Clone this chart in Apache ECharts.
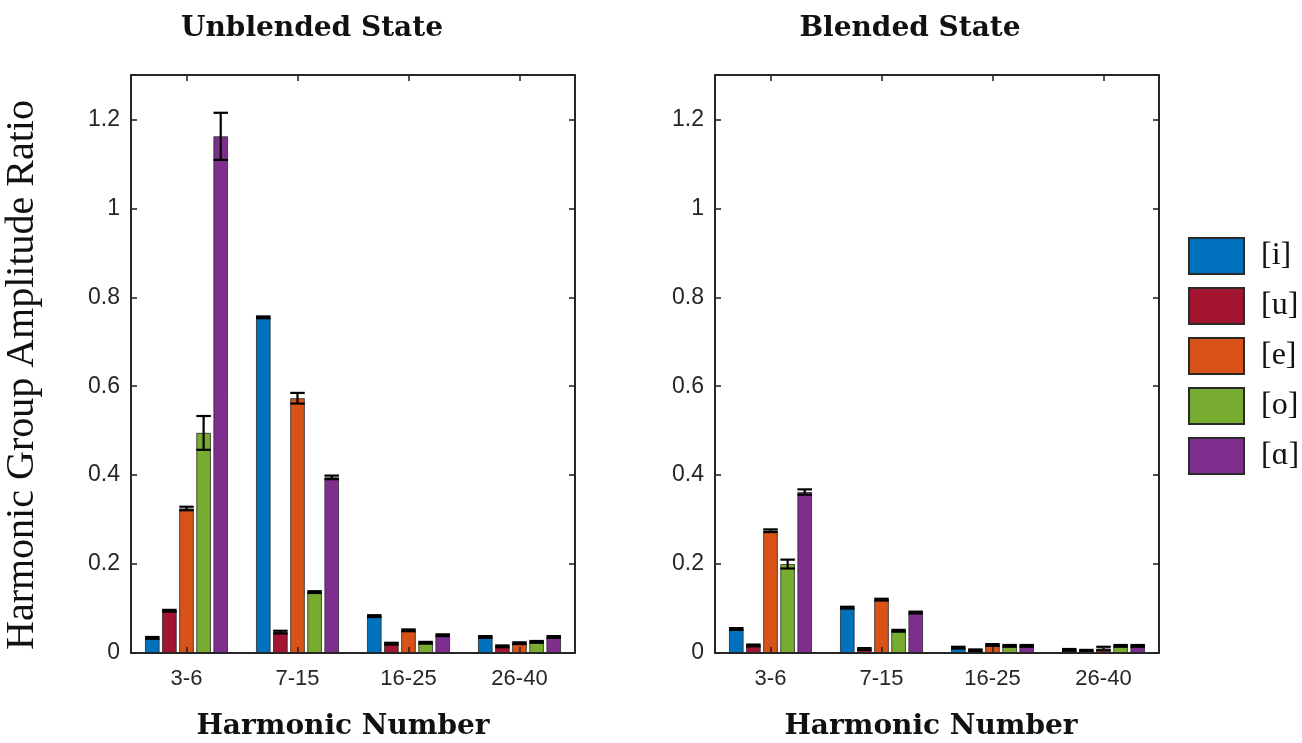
<!DOCTYPE html>
<html>
<head>
<meta charset="utf-8">
<script src="https://cdn.jsdelivr.net/npm/echarts@6/dist/echarts.min.js"></script>
<style>
  html, body { margin: 0; padding: 0; background: #ffffff; }
  #chart { width: 1302px; height: 743px; }
</style>
</head>
<body>
<div id="chart"></div>
<script>
// Harmonic groups on the x axis and the five vowels
const harmonicGroups = ['3-6', '7-15', '16-25', '26-40'];
const vowels = ['[i]', '[u]', '[e]', '[o]', '[ɑ]'];
const vowelColors = ['#0072BD', '#A2142F', '#D95319', '#77AC30', '#7E2F8E'];
const yTicks = [0, 0.2, 0.4, 0.6, 0.8, 1, 1.2];

// Unblended state: mean amplitude ratio per harmonic group
const unblendedI = [0.034, 0.755, 0.083, 0.036];
const unblendedU = [0.095, 0.047, 0.021, 0.015];
const unblendedE = [0.325, 0.573, 0.051, 0.022];
const unblendedO = [0.495, 0.137, 0.023, 0.025];
const unblendedA = [1.162, 0.395, 0.040, 0.036];
// Unblended state: error half-widths
const unblendedErrI = [0.002, 0.002, 0.002, 0.002];
const unblendedErrU = [0.002, 0.003, 0.002, 0.002];
const unblendedErrE = [0.004, 0.012, 0.002, 0.002];
const unblendedErrO = [0.038, 0.002, 0.002, 0.002];
const unblendedErrA = [0.053, 0.004, 0.002, 0.002];

// Blended state: mean amplitude ratio per harmonic group
const blendedI = [0.054, 0.102, 0.012, 0.007];
const blendedU = [0.017, 0.009, 0.006, 0.005];
const blendedE = [0.275, 0.120, 0.018, 0.010];
const blendedO = [0.200, 0.050, 0.016, 0.016];
const blendedA = [0.362, 0.091, 0.016, 0.016];
// Blended state: error half-widths
const blendedErrI = [0.002, 0.002, 0.002, 0.002];
const blendedErrU = [0.002, 0.002, 0.002, 0.002];
const blendedErrE = [0.003, 0.002, 0.002, 0.004];
const blendedErrO = [0.010, 0.002, 0.002, 0.002];
const blendedErrA = [0.006, 0.002, 0.002, 0.002];

const panels = [
  { title: 'Unblended State', values: [unblendedI, unblendedU, unblendedE, unblendedO, unblendedA],
    errors: [unblendedErrI, unblendedErrU, unblendedErrE, unblendedErrO, unblendedErrA] },
  { title: 'Blended State', values: [blendedI, blendedU, blendedE, blendedO, blendedA],
    errors: [blendedErrI, blendedErrU, blendedErrE, blendedErrO, blendedErrA] }
];

const BAR_W = 14.5;
const BAR_GAP = 0.18;          // fraction of bar width
const AXIS_COLOR = '#262626';
const GRID_LEFT = [131, 715];
const GRID_TOP = 75;
const GRID_W = 444;
const GRID_H = 578;

const chart = echarts.init(document.getElementById('chart'));

const grids = [], xAxes = [], yAxes = [], series = [];

panels.forEach((panel, p) => {
  grids.push({ left: GRID_LEFT[p], top: GRID_TOP, width: GRID_W, height: GRID_H, containLabel: false });

  const baseX = {
    type: 'category', data: harmonicGroups, gridIndex: p, z: 10,
    axisLine: { show: true, onZero: false, lineStyle: { color: AXIS_COLOR, width: 2 } },
    axisTick: { show: true, inside: true, alignWithLabel: true, length: 6, lineStyle: { color: AXIS_COLOR, width: 1.6 } },
    splitLine: { show: false }
  };
  xAxes.push(Object.assign({}, baseX, {
    position: 'bottom',
    axisLabel: { show: true, margin: 15, color: AXIS_COLOR, fontFamily: 'Liberation Sans', fontSize: 22 }
  }));
  xAxes.push(Object.assign({}, baseX, { position: 'top', axisLabel: { show: false } }));

  const baseY = {
    type: 'value', gridIndex: p, min: 0, max: 1.3, interval: 0.2, z: 10,
    axisLine: { show: true, lineStyle: { color: AXIS_COLOR, width: 2 } },
    axisTick: { show: true, inside: true, length: 6, lineStyle: { color: AXIS_COLOR, width: 1.6 } },
    splitLine: { show: false }
  };
  yAxes.push(Object.assign({}, baseY, {
    position: 'left',
    axisLabel: {
      show: true, margin: 11, color: AXIS_COLOR, fontFamily: 'Liberation Sans', fontSize: 23,
      formatter: v => (yTicks.some(t => Math.abs(t - v) < 1e-9) ? String(+v.toFixed(1)) : '')
    }
  }));
  yAxes.push(Object.assign({}, baseY, { position: 'right', axisLabel: { show: false } }));

  const xIdx = p * 2, yIdx = p * 2;

  vowels.forEach((v, k) => {
    series.push({
      type: 'bar', name: v, xAxisIndex: xIdx, yAxisIndex: yIdx,
      data: panel.values[k],
      barWidth: BAR_W, barGap: (BAR_GAP * 100) + '%',
      itemStyle: { color: vowelColors[k], borderColor: '#2a2a2a', borderWidth: 0.8 },
      emphasis: { disabled: true },
      z: 2
    });
  });

  // Error bars drawn on top of each bar
  vowels.forEach((v, k) => {
    const offset = (k - (vowels.length - 1) / 2) * BAR_W * (1 + BAR_GAP);
    series.push({
      type: 'custom', name: v + ' error', xAxisIndex: xIdx, yAxisIndex: yIdx, z: 5,
      data: panel.values[k].map((val, i) => [i, val, panel.errors[k][i]]),
      encode: { x: 0, y: 1 },
      silent: true,
      renderItem: (params, api) => {
        const i = api.value(0), val = api.value(1), err = api.value(2);
        const hi = api.coord([i, val + err]);
        const lo = api.coord([i, val - err]);
        const x = hi[0] + offset;
        const half = BAR_W / 2;
        const style = { stroke: '#000', lineWidth: 2.2 };
        return {
          type: 'group',
          children: [
            { type: 'line', shape: { x1: x, y1: hi[1], x2: x, y2: lo[1] }, style },
            { type: 'line', shape: { x1: x - half, y1: hi[1], x2: x + half, y2: hi[1] }, style },
            { type: 'line', shape: { x1: x - half, y1: lo[1], x2: x + half, y2: lo[1] }, style }
          ]
        };
      }
    });
  });
});

const titleFont = 'bold 28px "DejaVu Serif"';

chart.setOption({
  animation: false,
  backgroundColor: '#ffffff',
  grid: grids,
  xAxis: xAxes,
  yAxis: yAxes,
  legend: {
    data: vowels.map(v => ({ name: v, icon: 'rect' })),
    orient: 'vertical',
    left: 1188, top: 237, padding: 0,
    itemWidth: 55, itemHeight: 36, itemGap: 12,
    selectedMode: false,
    textStyle: { fontFamily: '"Liberation Serif"', fontSize: 32, lineHeight: 36, color: '#111', padding: [0, 0, 0, 12] }
  },
  graphic: [
    { type: 'text', x: 312, y: 29, style: { text: panels[0].title, font: titleFont, fill: '#111', textAlign: 'center', textVerticalAlign: 'middle' } },
    { type: 'text', x: 910, y: 29, style: { text: panels[1].title, font: titleFont, fill: '#111', textAlign: 'center', textVerticalAlign: 'middle' } },
    { type: 'text', x: 343, y: 727, style: { text: 'Harmonic Number', font: titleFont, fill: '#111', textAlign: 'center', textVerticalAlign: 'middle' } },
    { type: 'text', x: 931, y: 727, style: { text: 'Harmonic Number', font: titleFont, fill: '#111', textAlign: 'center', textVerticalAlign: 'middle' } },
    { type: 'text', x: 22, y: 375, rotation: Math.PI / 2,
      style: { text: 'Harmonic Group Amplitude Ratio', font: '40px "Liberation Serif"', fill: '#111', textAlign: 'center', textVerticalAlign: 'middle' } }
  ],
  series: series
});
</script>
</body>
</html>
